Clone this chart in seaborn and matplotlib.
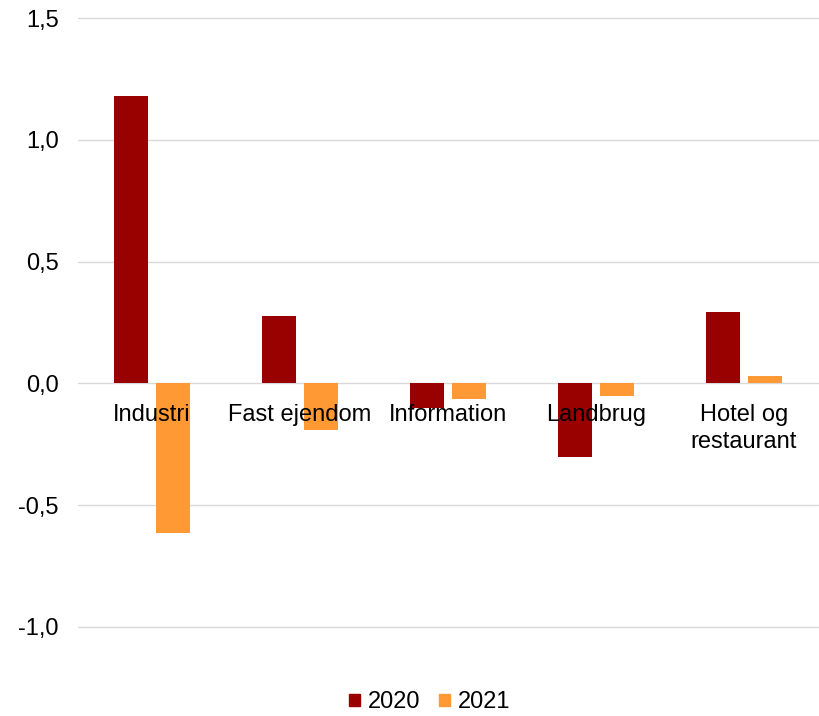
import matplotlib
matplotlib.use("Agg")
import matplotlib.pyplot as plt
import seaborn as sns
import pandas as pd
from matplotlib.patches import Patch

categories = ["Industri", "Fast ejendom", "Information", "Landbrug", "Hotel og\nrestaurant"]
years = ["2020", "2021"]
values_2020 = [1.18, 0.275, -0.103, -0.304, 0.292]
values_2021 = [-0.616, -0.193, -0.066, -0.053, 0.029]
yticks = [-1.0, -0.5, 0.0, 0.5, 1.0, 1.5]
ytick_labels = ["-1,0", "-0,5", "0,0", "0,5", "1,0", "1,5"]
colors = {"2020": "#990000", "2021": "#FF9933"}

df = pd.DataFrame({
    "category": categories * 2,
    "year": ["2020"] * len(categories) + ["2021"] * len(categories),
    "value": values_2020 + values_2021,
})

sns.set_style("white")
plt.rcParams["font.family"] = ["Liberation Sans", "DejaVu Sans"]
plt.rcParams["text.color"] = "#000000"
plt.rcParams["ytick.color"] = "#000000"

fig = plt.figure(figsize=(8.19, 7.16), dpi=100)
ax = fig.add_axes([78 / 819, 1 - 627 / 716, 740 / 819, (627 - 18) / 716])

sns.barplot(data=df, x="category", y="value", hue="year", palette=colors,
            width=0.57, gap=0.21, ax=ax, legend=False, saturation=1,
            linewidth=0, edgecolor="none")

ax.set_ylim(-1.0, 1.5)
ax.set_xlim(-0.5, len(categories) - 0.5)
ax.set_yticks(yticks)
ax.set_yticklabels(ytick_labels, fontsize=17, color="#000000")
ax.yaxis.grid(True, color="#d9d9d9", linewidth=1)
for gl in ax.get_ygridlines():
    gl.set_clip_on(False)
ax.set_axisbelow(True)
for s in ax.spines.values():
    s.set_visible(False)
ax.tick_params(axis="y", length=0, pad=14)
ax.set_xticks([])
ax.set_xlabel("")
ax.set_ylabel("")

for i, c in enumerate(categories):
    ax.text(i, -0.085, c, ha="center", va="top", fontsize=17, color="#000000",
            linespacing=1.3, zorder=5)

handles = [Patch(color=colors[y], label=y) for y in years]
fig.legend(handles=handles, loc="lower center", bbox_to_anchor=(0.525, -0.026),
           ncol=2, frameon=False, fontsize=17, handlelength=0.45, handleheight=0.45,
           handletextpad=0.35, columnspacing=0.8)

fig.savefig("out.png", dpi=100)
